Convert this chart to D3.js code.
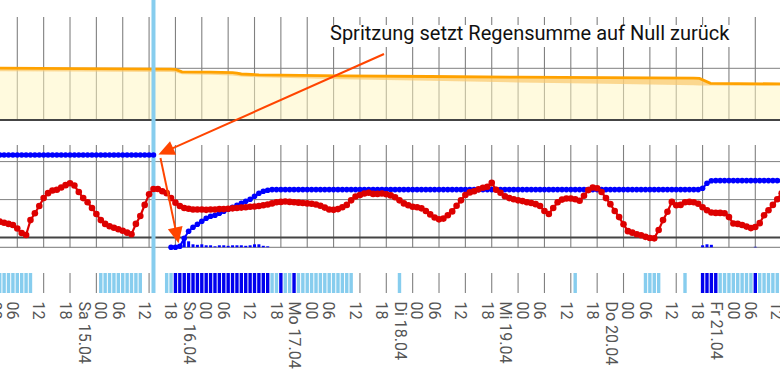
<!DOCTYPE html>
<html><head><meta charset="utf-8">
<script src="https://cdn.jsdelivr.net/npm/d3@7"></script>
<style>body{margin:0;background:#fff;} svg{display:block;font-family:Roboto, sans-serif;}</style>
</head><body><svg id="c" width="780" height="381"></svg>
<script>
// ---------- data ----------
const startDate = new Date(2023, 3, 14, 0, 0); // Fr 14.04 00:00
const seriesStartHour = 2;
const endHour = 180;
const sprayHour = 37;
const dayNames = ["So", "Mo", "Di", "Mi", "Do", "Fr", "Sa"];
const annotationText = "Spritzung setzt Regensumme auf Null zurück";

// hourly air temperature (°C), from hour 2
const temperature = [
  4.2, 3.9, 3.6, 3.3, 2.4, 1.2, 0.7, 4.6, 6.4, 8.3, 10.4, 11.7, 12.4, 12.6,
  13.2, 13.8, 14.3, 13.7, 12.0, 10.4, 9.3, 7.8, 6.2, 4.6, 3.6, 3.0, 2.6, 2.2,
  1.8, 1.3, 0.9, 3.6, 5.7, 8.6, 11.4, 12.8, 12.8, 12.2, 11.7, 10.4, 9.2, 8.3,
  7.8, 7.6, 7.4, 7.4, 7.4, 7.3, 7.4, 7.4, 7.5, 7.5, 7.6, 7.7, 7.8, 7.9,
  8.0, 8.1, 8.2, 8.3, 8.5, 8.7, 9.0, 9.3, 9.4, 9.5, 9.4, 9.3, 9.2, 9.1,
  9.0, 8.9, 8.7, 8.4, 7.9, 7.4, 7.3, 7.5, 8.0, 8.6, 9.8, 10.8, 11.2, 11.6,
  11.8, 11.5, 11.5, 11.6, 11.4, 11.1, 10.6, 9.8, 9.0, 8.5, 8.1, 8.0, 7.7, 7.0,
  6.1, 5.3, 4.8, 5.0, 5.9, 6.9, 8.4, 9.8, 11.2, 11.9, 12.2, 12.7, 13.1, 13.4,
  14.4, 12.6, 11.8, 10.9, 10.4, 10.1, 9.8, 9.6, 9.3, 9.1, 8.8, 8.3, 7.0, 6.2,
  7.8, 9.3, 10.0, 10.3, 10.3, 10.1, 9.7, 11.0, 12.5, 13.2, 13.0, 12.0, 10.4, 8.8,
  7.0, 5.4, 3.5, 1.7, 1.3, 0.9, 0.6, 0.2, -0.1, -0.2, 2.0, 4.6, 6.8, 9.4,
  8.5, 8.6, 9.3, 9.4, 9.3, 8.9, 8.0, 7.2, 6.6, 6.5, 6.5, 6.4, 5.4, 3.7,
  3.6, 3.3, 2.9, 2.5, 2.8, 3.8, 5.9, 7.2, 8.6, 10.1, 11.7
];

// hourly rain sum since last spraying (mm), from hour 2
const rainSum = [
  9.23, 9.23, 9.23, 9.23, 9.23, 9.23, 9.23, 9.23, 9.23, 9.23, 9.23, 9.23,
  9.23, 9.23, 9.23, 9.23, 9.23, 9.23, 9.23, 9.23, 9.23, 9.23, 9.23, 9.23,
  9.23, 9.23, 9.23, 9.23, 9.23, 9.23, 9.23, 9.23, 9.23, 9.23, 9.23, 9.23,
  null, null, null,
  0, 0, 0.1, 0.9, 1.6, 2.0, 2.3, 2.6, 2.9, 3.1, 3.2, 3.4, 3.6, 3.8, 4.0, 4.2,
  4.4, 4.6, 4.8, 5.1, 5.4, 5.6, 5.7,
  5.77, 5.77, 5.77, 5.77, 5.77, 5.77, 5.77, 5.77, 5.77, 5.77, 5.77, 5.77, 5.77, 5.77,
  5.77, 5.77, 5.77, 5.77, 5.77, 5.77, 5.77, 5.77, 5.77, 5.77, 5.77, 5.77, 5.77, 5.77,
  5.77, 5.77, 5.77, 5.77, 5.77, 5.77, 5.77, 5.77, 5.77, 5.77, 5.77, 5.77, 5.77, 5.77,
  5.77, 5.77, 5.77, 5.77, 5.77, 5.77, 5.77, 5.77, 5.77, 5.77, 5.77, 5.77, 5.77, 5.77,
  5.77, 5.77, 5.77, 5.77, 5.77, 5.77, 5.77, 5.77, 5.77, 5.77, 5.77, 5.77, 5.77, 5.77,
  5.77, 5.77, 5.77, 5.77, 5.77, 5.77, 5.77, 5.77, 5.77, 5.77, 5.77, 5.77, 5.77, 5.77,
  5.77, 5.77, 5.77, 5.77, 5.77, 5.77, 5.77, 5.77, 5.77, 5.77, 5.77, 5.77, 5.77, 5.77,
  5.9, 6.4, 6.65,
  6.67, 6.67, 6.67, 6.67, 6.67, 6.67, 6.67, 6.67, 6.67, 6.67, 6.67, 6.67, 6.67, 6.67,
  6.67, 6.67
];

// hourly rain amount (hour, mm)
const rainHourly = [
  [42, 0.1], [43, 0.2], [44, 0.7], [45, 0.6], [46, 0.3], [47, 0.25], [48, 0.3],
  [49, 0.2], [50, 0.2], [51, 0.1], [52, 0.2], [53, 0.2], [54, 0.15], [55, 0.2],
  [56, 0.2], [57, 0.2], [58, 0.15], [59, 0.2], [60, 0.3], [61, 0.3], [62, 0.15],
  [63, 0.1], [162, 0.2], [163, 0.3], [164, 0.25], [174, 0.05]
];

// leaf wetness strip (hours)
const wetLightHours = [0, 1, 2, 3, 4, 5, 6, 7, 8, 9, 25, 26, 27, 28, 29, 30, 31, 32, 33, 34,
  40, 41, 64, 65, 67, 68, 70, 71, 72, 73, 74, 75, 76, 77, 78, 79, 80, 81, 82, 93, 133,
  149, 150, 151, 152, 158, 166, 167, 168, 169, 170, 171, 172, 173, 175, 176, 177, 178, 179, 180];
const wetDarkHours = [42, 43, 44, 45, 46, 47, 48, 49, 50, 51, 52, 53, 54, 55, 56, 57, 58, 59, 60,
  61, 62, 63, 66, 69, 162, 163, 164, 165, 174];

// top panel: protection level (%), upper line and lower line
const topHours = [0, 20, 41, 42, 43.5, 50, 55, 56, 57, 61, 80, 100, 120, 140, 160, 161.3, 163.8, 170, 180];
const protectUpper = [100.6, 99.4, 98.3, 97.9, 93.2, 92.5, 91.7, 90.5, 89.0, 87.4, 85.5, 84.1, 82.8, 82.0, 80.9, 80.5, 71.0, 70.4, 69.8];
const protectLower = [94.4, 93.8, 92.8, 92.5, 88.6, 87.4, 86.3, 85.1, 83.9, 82.6, 78.9, 75.8, 72.7, 70.0, 67.1, 66.7, 66.5, 66.3, 66.2];

// ---------- scales ----------
const hourToDate = h => new Date(startDate.getTime() + h * 3600e3);
const x = d3.scaleTime().domain([startDate, hourToDate(endHour)]).range([-9.06, 781.66]);
const yTop = d3.scaleLinear().domain([0, 100]).range([120, 68.3]);
const yTemp = d3.scaleLinear().domain([0, 20]).range([237.6, 161.6]);
const yRain = d3.scaleLinear().domain([0, 10]).range([247.3, 147.3]);
const xh = h => x(hourToDate(h));

const svg = d3.select("#c");

// ---------- grid ----------
const ticks = x.ticks(d3.timeHour.every(6));
const bands = [[17, 120], [145, 247.5], [273, 293]];
const grid = svg.append("g");
bands.forEach(b => {
  grid.selectAll(null).data(ticks).enter().append("line")
    .attr("x1", d => x(d)).attr("x2", d => x(d))
    .attr("y1", b[0]).attr("y2", b[1])
    .attr("stroke", "#808080").attr("stroke-width", 1.1);
});
// horizontal lines
svg.append("line").attr("x1", 0).attr("x2", 780).attr("y1", yTop(100)).attr("y2", yTop(100))
  .attr("stroke", "#808080").attr("stroke-width", 1);
[10, 20].forEach(v => svg.append("line").attr("x1", 0).attr("x2", 780)
  .attr("y1", yTemp(v)).attr("y2", yTemp(v)).attr("stroke", "#808080").attr("stroke-width", 1));
svg.append("line").attr("x1", 0).attr("x2", 780).attr("y1", yRain(0)).attr("y2", yRain(0))
  .attr("stroke", "#777").attr("stroke-width", 1);

// ---------- top panel ----------
const topData = topHours.map((h, i) => ({ h, u: protectUpper[i], l: protectLower[i] }));
svg.append("path").datum(topData)
  .attr("d", d3.area().x(d => xh(d.h)).y0(yTop(0)).y1(d => yTop(d.u)))
  .attr("fill", "rgb(255,246,190)").attr("fill-opacity", 0.5);
svg.append("path").datum(topData)
  .attr("d", d3.area().x(d => xh(d.h)).y0(d => yTop(d.l)).y1(d => yTop(d.u)))
  .attr("fill", "rgb(250,200,110)").attr("fill-opacity", 0.7);
svg.append("path").datum(topData)
  .attr("d", d3.line().x(d => xh(d.h)).y(d => yTop(d.u)))
  .attr("fill", "none").attr("stroke", "#ffa200").attr("stroke-width", 2.8);
svg.append("line").attr("x1", 0).attr("x2", 780).attr("y1", yTop(0)).attr("y2", yTop(0))
  .attr("stroke", "#444").attr("stroke-width", 1.8);
svg.append("line").attr("x1", 0).attr("x2", 780).attr("y1", yTemp(0)).attr("y2", yTemp(0))
  .attr("stroke", "#444").attr("stroke-width", 2);

// ---------- wetness strip ----------
svg.append("g").selectAll("rect").data(wetLightHours).enter().append("rect")
  .attr("x", h => xh(h) - 1.7).attr("width", 3.4).attr("y", 273).attr("height", 20)
  .attr("fill", "#87cdee");
svg.append("g").selectAll("rect").data(wetDarkHours).enter().append("rect")
  .attr("x", h => xh(h) - 1.7).attr("width", 3.4).attr("y", 273).attr("height", 20)
  .attr("fill", "#0000ee");

// ---------- spray line ----------
svg.append("line").attr("x1", xh(sprayHour)).attr("x2", xh(sprayHour))
  .attr("y1", 0).attr("y2", 293).attr("stroke", "#87cdee").attr("stroke-width", 4);

// ---------- rain ----------
svg.append("g").selectAll("rect").data(rainHourly).enter().append("rect")
  .attr("x", d => xh(d[0]) - 1.5).attr("width", 3)
  .attr("y", d => yRain(d[1])).attr("height", d => yRain(0) - yRain(d[1]))
  .attr("fill", "#0000ff");
const rainData = rainSum.map((v, i) => ({ h: seriesStartHour + i, v }));
svg.append("path").datum(rainData)
  .attr("d", d3.line().defined(d => d.v !== null).x(d => xh(d.h)).y(d => yRain(d.v)))
  .attr("fill", "none").attr("stroke", "#0000ff").attr("stroke-width", 2);
svg.append("g").selectAll("circle").data(rainData.filter(d => d.v !== null)).enter().append("circle")
  .attr("cx", d => xh(d.h)).attr("cy", d => yRain(d.v)).attr("r", 2.8).attr("fill", "#0000ff");

// ---------- temperature ----------
const tempData = temperature.map((v, i) => ({ h: seriesStartHour + i, v }));
svg.append("path").datum(tempData)
  .attr("d", d3.line().x(d => xh(d.h)).y(d => yTemp(d.v)))
  .attr("fill", "none").attr("stroke", "#dd0000").attr("stroke-width", 2.2);
svg.append("g").selectAll("circle").data(tempData).enter().append("circle")
  .attr("cx", d => xh(d.h)).attr("cy", d => yTemp(d.v)).attr("r", 3.3).attr("fill", "#dd0000");

// ---------- x labels ----------
const fmtH = d3.timeFormat("%H"), fmtD = d3.timeFormat("%d.%m");
const labels = svg.append("g").attr("fill", "#555").style("font-size", "16px");
function addLabel(bx, s) {
  labels.append("text").attr("transform", `translate(${bx},301.5) rotate(90)`).text(s);
}
ticks.forEach(t => {
  const g = x(t);
  if (t.getHours() === 0) {
    addLabel(g - 1.4, fmtH(t));
    addLabel(g - 17.8, dayNames[t.getDay()] + " " + fmtD(t));
  } else {
    addLabel(g - 10.2, fmtH(t));
  }
});

// ---------- annotation ----------
const ann = svg.append("g");
const bg = ann.append("rect").attr("fill", "#fff");
const txt = ann.append("text").attr("x", 330).attr("y", 40).attr("fill", "#111")
  .style("font-size", "20px").text(annotationText);
const bb = txt.node().getBBox();
bg.attr("x", bb.x - 3).attr("y", 25).attr("width", bb.width + 6).attr("height", 22);

function arrow(x1, y1, x2, y2) {
  const dx = x2 - x1, dy = y2 - y1, L = Math.hypot(dx, dy);
  const ux = dx / L, uy = dy / L, len = 16, hw = 7.5;
  const bxp = x2 - ux * len, byp = y2 - uy * len;
  ann.append("line").attr("x1", x1).attr("y1", y1).attr("x2", bxp + ux * 2).attr("y2", byp + uy * 2)
    .attr("stroke", "#ff4500").attr("stroke-width", 2);
  ann.append("path").attr("d", `M${x2},${y2}L${bxp - uy * hw},${byp + ux * hw}L${bxp + uy * hw},${byp - ux * hw}Z`)
    .attr("fill", "#ff4500");
}
arrow(384, 54, xh(sprayHour) + 5, yRain(9.23) - 0.5);
arrow(xh(sprayHour) + 7, yRain(9.23) + 3, xh(42.7), yRain(0) - 4);
</script></body></html>
